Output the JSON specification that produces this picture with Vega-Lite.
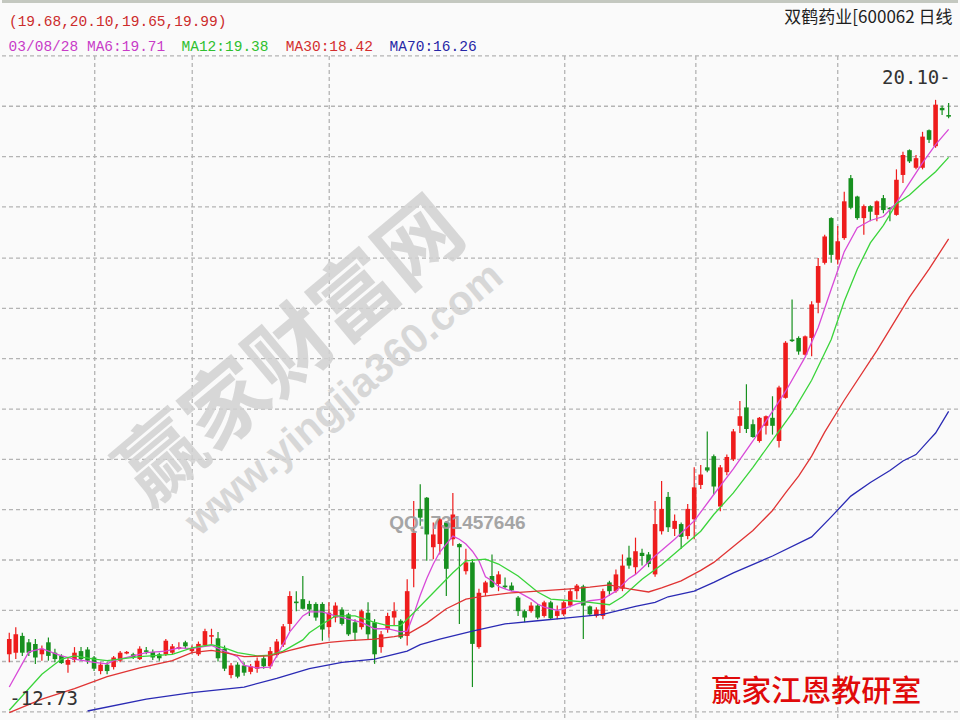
{
  "$schema": "https://vega.github.io/schema/vega-lite/v6.json",
  "width": 960,
  "height": 720,
  "autosize": {"type": "fit", "contains": "padding"},
  "padding": 0,
  "background": "#fafafa",
  "config": {"view": {"stroke": null}},
  "datasets": {
    "k": [
      {"i":0,"o":13.16,"h":13.43,"l":13.06,"c":13.35},
      {"i":1,"o":13.18,"h":13.50,"l":13.10,"c":13.41},
      {"i":2,"o":13.39,"h":13.43,"l":13.14,"c":13.18},
      {"i":3,"o":13.31,"h":13.35,"l":13.14,"c":13.18},
      {"i":4,"o":13.29,"h":13.35,"l":13.04,"c":13.12},
      {"i":5,"o":13.16,"h":13.27,"l":13.08,"c":13.23},
      {"i":6,"o":13.31,"h":13.37,"l":13.08,"c":13.14},
      {"i":7,"o":13.18,"h":13.23,"l":13.06,"c":13.10},
      {"i":8,"o":13.14,"h":13.16,"l":13.04,"c":13.05},
      {"i":9,"o":13.03,"h":13.12,"l":12.93,"c":13.09},
      {"i":10,"o":13.09,"h":13.25,"l":13.06,"c":13.18},
      {"i":11,"o":13.20,"h":13.25,"l":13.08,"c":13.10},
      {"i":12,"o":13.22,"h":13.25,"l":13.04,"c":13.08},
      {"i":13,"o":13.12,"h":13.14,"l":12.95,"c":12.98},
      {"i":14,"o":12.95,"h":13.06,"l":12.91,"c":13.03},
      {"i":15,"o":13.03,"h":13.06,"l":12.91,"c":12.95},
      {"i":16,"o":13.00,"h":13.14,"l":12.97,"c":13.12},
      {"i":17,"o":13.08,"h":13.20,"l":13.06,"c":13.18},
      {"i":18,"o":13.17,"h":13.20,"l":13.16,"c":13.19},
      {"i":19,"o":13.16,"h":13.18,"l":13.10,"c":13.12},
      {"i":20,"o":13.10,"h":13.26,"l":13.09,"c":13.23},
      {"i":21,"o":13.21,"h":13.25,"l":13.16,"c":13.19},
      {"i":22,"o":13.19,"h":13.22,"l":13.09,"c":13.12},
      {"i":23,"o":13.16,"h":13.18,"l":13.08,"c":13.11},
      {"i":24,"o":13.16,"h":13.35,"l":13.14,"c":13.33},
      {"i":25,"o":13.18,"h":13.29,"l":13.16,"c":13.26},
      {"i":26,"o":13.23,"h":13.31,"l":13.22,"c":13.25},
      {"i":27,"o":13.31,"h":13.33,"l":13.23,"c":13.26},
      {"i":28,"o":13.20,"h":13.27,"l":13.17,"c":13.23},
      {"i":29,"o":13.16,"h":13.32,"l":13.14,"c":13.29},
      {"i":30,"o":13.27,"h":13.48,"l":13.25,"c":13.45},
      {"i":31,"o":13.38,"h":13.48,"l":13.29,"c":13.40},
      {"i":32,"o":13.36,"h":13.44,"l":13.07,"c":13.11},
      {"i":33,"o":13.23,"h":13.27,"l":12.95,"c":12.98},
      {"i":34,"o":12.90,"h":13.05,"l":12.86,"c":13.02},
      {"i":35,"o":13.03,"h":13.06,"l":12.86,"c":12.88},
      {"i":36,"o":13.02,"h":13.06,"l":12.89,"c":12.93},
      {"i":37,"o":12.94,"h":13.04,"l":12.91,"c":13.01},
      {"i":38,"o":12.98,"h":13.12,"l":12.93,"c":13.08},
      {"i":39,"o":13.11,"h":13.14,"l":12.98,"c":13.01},
      {"i":40,"o":13.01,"h":13.25,"l":12.98,"c":13.20},
      {"i":41,"o":13.15,"h":13.35,"l":13.12,"c":13.32},
      {"i":42,"o":13.28,"h":13.54,"l":13.25,"c":13.51},
      {"i":43,"o":13.54,"h":13.95,"l":13.45,"c":13.89},
      {"i":44,"o":13.82,"h":13.95,"l":13.70,"c":13.80},
      {"i":45,"o":13.85,"h":14.14,"l":13.72,"c":13.73},
      {"i":46,"o":13.79,"h":13.83,"l":13.64,"c":13.72},
      {"i":47,"o":13.79,"h":13.81,"l":13.58,"c":13.62},
      {"i":48,"o":13.79,"h":13.81,"l":13.33,"c":13.47},
      {"i":49,"o":13.50,"h":13.81,"l":13.37,"c":13.68},
      {"i":50,"o":13.62,"h":13.81,"l":13.56,"c":13.77},
      {"i":51,"o":13.72,"h":13.75,"l":13.52,"c":13.54},
      {"i":52,"o":13.66,"h":13.68,"l":13.39,"c":13.41},
      {"i":53,"o":13.56,"h":13.60,"l":13.33,"c":13.43},
      {"i":54,"o":13.50,"h":13.72,"l":13.47,"c":13.70},
      {"i":55,"o":13.68,"h":13.81,"l":13.35,"c":13.41},
      {"i":56,"o":13.56,"h":13.60,"l":13.04,"c":13.16},
      {"i":57,"o":13.25,"h":13.45,"l":13.18,"c":13.41},
      {"i":58,"o":13.47,"h":13.68,"l":13.43,"c":13.64},
      {"i":59,"o":13.62,"h":13.81,"l":13.52,"c":13.70},
      {"i":60,"o":13.58,"h":13.60,"l":13.35,"c":13.37},
      {"i":61,"o":13.39,"h":14.10,"l":13.27,"c":13.95},
      {"i":62,"o":14.23,"h":15.08,"l":14.00,"c":14.68},
      {"i":63,"o":14.98,"h":15.29,"l":14.77,"c":14.87},
      {"i":64,"o":15.12,"h":15.13,"l":14.33,"c":14.66},
      {"i":65,"o":14.50,"h":14.81,"l":14.35,"c":14.66},
      {"i":66,"o":14.54,"h":14.87,"l":14.41,"c":14.85},
      {"i":67,"o":14.81,"h":14.83,"l":13.89,"c":14.23},
      {"i":68,"o":14.60,"h":15.18,"l":14.52,"c":14.91},
      {"i":69,"o":14.54,"h":14.55,"l":13.54,"c":14.50},
      {"i":70,"o":14.20,"h":14.48,"l":14.16,"c":14.31},
      {"i":71,"o":14.31,"h":14.35,"l":12.75,"c":13.29},
      {"i":72,"o":13.25,"h":13.98,"l":13.23,"c":13.93},
      {"i":73,"o":13.93,"h":14.08,"l":13.89,"c":14.06},
      {"i":74,"o":14.14,"h":14.41,"l":13.99,"c":14.00},
      {"i":75,"o":14.04,"h":14.20,"l":13.95,"c":14.16},
      {"i":76,"o":14.02,"h":14.12,"l":13.98,"c":14.00},
      {"i":77,"o":14.02,"h":14.06,"l":13.95,"c":13.96},
      {"i":78,"o":13.87,"h":13.89,"l":13.64,"c":13.70},
      {"i":79,"o":13.70,"h":13.72,"l":13.56,"c":13.62},
      {"i":80,"o":13.70,"h":13.81,"l":13.68,"c":13.77},
      {"i":81,"o":13.77,"h":13.79,"l":13.60,"c":13.62},
      {"i":82,"o":13.64,"h":13.83,"l":13.62,"c":13.81},
      {"i":83,"o":13.81,"h":13.83,"l":13.59,"c":13.61},
      {"i":84,"o":13.64,"h":13.77,"l":13.60,"c":13.70},
      {"i":85,"o":13.66,"h":13.83,"l":13.64,"c":13.81},
      {"i":86,"o":13.77,"h":13.98,"l":13.75,"c":13.95},
      {"i":87,"o":13.95,"h":14.04,"l":13.85,"c":14.02},
      {"i":88,"o":14.01,"h":14.03,"l":13.35,"c":13.77},
      {"i":89,"o":13.76,"h":13.77,"l":13.64,"c":13.66},
      {"i":90,"o":13.64,"h":13.75,"l":13.62,"c":13.72},
      {"i":91,"o":13.64,"h":13.98,"l":13.60,"c":13.95},
      {"i":92,"o":14.06,"h":14.08,"l":13.89,"c":13.95},
      {"i":93,"o":13.95,"h":14.22,"l":13.93,"c":14.16},
      {"i":94,"o":13.98,"h":14.41,"l":13.95,"c":14.27},
      {"i":95,"o":14.37,"h":14.52,"l":14.23,"c":14.27},
      {"i":96,"o":14.25,"h":14.62,"l":14.16,"c":14.45},
      {"i":97,"o":14.43,"h":14.48,"l":14.27,"c":14.39},
      {"i":98,"o":14.41,"h":14.44,"l":14.25,"c":14.29},
      {"i":99,"o":14.16,"h":15.08,"l":14.13,"c":14.79},
      {"i":100,"o":14.70,"h":15.33,"l":14.66,"c":14.98},
      {"i":101,"o":15.13,"h":15.19,"l":14.69,"c":14.75},
      {"i":102,"o":14.73,"h":14.91,"l":14.64,"c":14.83},
      {"i":103,"o":14.79,"h":14.81,"l":14.48,"c":14.63},
      {"i":104,"o":14.64,"h":15.04,"l":14.60,"c":14.98},
      {"i":105,"o":14.85,"h":15.50,"l":14.60,"c":15.25},
      {"i":106,"o":15.28,"h":15.53,"l":15.23,"c":15.41},
      {"i":107,"o":15.50,"h":15.95,"l":15.44,"c":15.46},
      {"i":108,"o":15.64,"h":15.66,"l":15.16,"c":15.26},
      {"i":109,"o":15.01,"h":15.53,"l":14.95,"c":15.50},
      {"i":110,"o":15.44,"h":15.66,"l":15.40,"c":15.63},
      {"i":111,"o":15.60,"h":15.98,"l":15.58,"c":15.95},
      {"i":112,"o":16.02,"h":16.33,"l":15.93,"c":16.14},
      {"i":113,"o":16.25,"h":16.54,"l":15.93,"c":15.98},
      {"i":114,"o":16.04,"h":16.10,"l":15.87,"c":15.88},
      {"i":115,"o":15.83,"h":16.13,"l":15.81,"c":16.12},
      {"i":116,"o":16.02,"h":16.15,"l":15.91,"c":16.14},
      {"i":117,"o":16.12,"h":16.39,"l":15.91,"c":16.02},
      {"i":118,"o":15.83,"h":16.52,"l":15.75,"c":16.50},
      {"i":119,"o":16.37,"h":17.08,"l":16.36,"c":17.06},
      {"i":120,"o":17.10,"h":17.60,"l":17.07,"c":17.08},
      {"i":121,"o":17.12,"h":17.14,"l":16.91,"c":16.95},
      {"i":122,"o":16.91,"h":17.15,"l":16.90,"c":17.14},
      {"i":123,"o":17.12,"h":17.58,"l":16.89,"c":17.54},
      {"i":124,"o":17.56,"h":18.12,"l":17.43,"c":18.02},
      {"i":125,"o":18.06,"h":18.41,"l":18.04,"c":18.39},
      {"i":126,"o":18.62,"h":18.63,"l":18.06,"c":18.16},
      {"i":127,"o":18.10,"h":18.52,"l":18.04,"c":18.33},
      {"i":128,"o":18.37,"h":18.95,"l":18.35,"c":18.83},
      {"i":129,"o":19.12,"h":19.16,"l":18.73,"c":18.75},
      {"i":130,"o":18.89,"h":18.90,"l":18.60,"c":18.62},
      {"i":131,"o":18.62,"h":18.79,"l":18.41,"c":18.77},
      {"i":132,"o":18.77,"h":18.78,"l":18.58,"c":18.70},
      {"i":133,"o":18.66,"h":18.84,"l":18.58,"c":18.83},
      {"i":134,"o":18.87,"h":18.91,"l":18.68,"c":18.72},
      {"i":135,"o":18.75,"h":18.76,"l":18.58,"c":18.73},
      {"i":136,"o":18.66,"h":19.23,"l":18.65,"c":19.10},
      {"i":137,"o":19.16,"h":19.45,"l":19.06,"c":19.41},
      {"i":138,"o":19.47,"h":19.48,"l":19.31,"c":19.33},
      {"i":139,"o":19.25,"h":19.41,"l":19.23,"c":19.37},
      {"i":140,"o":19.25,"h":19.70,"l":19.23,"c":19.64},
      {"i":141,"o":19.72,"h":19.73,"l":19.56,"c":19.60},
      {"i":142,"o":19.52,"h":20.10,"l":19.50,"c":20.04},
      {"i":143,"o":20.00,"h":20.03,"l":19.91,"c":19.97},
      {"i":144,"o":19.91,"h":20.06,"l":19.87,"c":19.89}
    ],
    "ma": [
      {"s":"MA6","i":0,"v":12.75},{"s":"MA6","i":3,"v":13.19},{"s":"MA6","i":5,"v":13.23},{"s":"MA6","i":8,"v":13.14},
      {"s":"MA6","i":10,"v":13.10},{"s":"MA6","i":13,"v":13.06},{"s":"MA6","i":15,"v":13.04},{"s":"MA6","i":16,"v":13.08},
      {"s":"MA6","i":19,"v":13.14},{"s":"MA6","i":21,"v":13.18},{"s":"MA6","i":24,"v":13.20},{"s":"MA6","i":26,"v":13.24},
      {"s":"MA6","i":28,"v":13.23},{"s":"MA6","i":30,"v":13.26},{"s":"MA6","i":31,"v":13.27},{"s":"MA6","i":33,"v":13.20},
      {"s":"MA6","i":35,"v":13.13},{"s":"MA6","i":36,"v":13.02},{"s":"MA6","i":38,"v":12.99},{"s":"MA6","i":40,"v":13.00},
      {"s":"MA6","i":41,"v":13.14},{"s":"MA6","i":43,"v":13.44},{"s":"MA6","i":45,"v":13.64},{"s":"MA6","i":46,"v":13.69},
      {"s":"MA6","i":48,"v":13.69},{"s":"MA6","i":50,"v":13.64},{"s":"MA6","i":52,"v":13.60},{"s":"MA6","i":54,"v":13.56},
      {"s":"MA6","i":56,"v":13.48},{"s":"MA6","i":58,"v":13.48},{"s":"MA6","i":60,"v":13.44},{"s":"MA6","i":61,"v":13.45},
      {"s":"MA6","i":62,"v":13.66},{"s":"MA6","i":63,"v":13.90},{"s":"MA6","i":64,"v":14.11},{"s":"MA6","i":65,"v":14.29},
      {"s":"MA6","i":66,"v":14.44},{"s":"MA6","i":67,"v":14.54},{"s":"MA6","i":68,"v":14.64},{"s":"MA6","i":69,"v":14.60},
      {"s":"MA6","i":70,"v":14.54},{"s":"MA6","i":71,"v":14.45},{"s":"MA6","i":72,"v":14.33},{"s":"MA6","i":73,"v":14.13},
      {"s":"MA6","i":74,"v":14.08},{"s":"MA6","i":75,"v":14.01},{"s":"MA6","i":76,"v":13.98},{"s":"MA6","i":77,"v":13.95},
      {"s":"MA6","i":78,"v":13.94},{"s":"MA6","i":80,"v":13.85},{"s":"MA6","i":81,"v":13.79},{"s":"MA6","i":82,"v":13.75},
      {"s":"MA6","i":83,"v":13.73},{"s":"MA6","i":84,"v":13.71},{"s":"MA6","i":85,"v":13.73},{"s":"MA6","i":87,"v":13.79},
      {"s":"MA6","i":88,"v":13.81},{"s":"MA6","i":89,"v":13.83},{"s":"MA6","i":91,"v":13.85},{"s":"MA6","i":93,"v":13.95},
      {"s":"MA6","i":95,"v":14.11},{"s":"MA6","i":96,"v":14.16},{"s":"MA6","i":99,"v":14.39},{"s":"MA6","i":102,"v":14.60},
      {"s":"MA6","i":105,"v":14.83},{"s":"MA6","i":108,"v":15.16},{"s":"MA6","i":111,"v":15.48},{"s":"MA6","i":114,"v":15.83},
      {"s":"MA6","i":117,"v":16.20},{"s":"MA6","i":119,"v":16.45},{"s":"MA6","i":122,"v":16.88},{"s":"MA6","i":124,"v":17.25},
      {"s":"MA6","i":126,"v":17.73},{"s":"MA6","i":128,"v":18.20},{"s":"MA6","i":130,"v":18.50},{"s":"MA6","i":132,"v":18.59},
      {"s":"MA6","i":134,"v":18.64},{"s":"MA6","i":136,"v":18.81},{"s":"MA6","i":138,"v":19.06},{"s":"MA6","i":140,"v":19.31},
      {"s":"MA6","i":142,"v":19.54},{"s":"MA6","i":144,"v":19.73},

      {"s":"MA12","i":0,"v":12.46},{"s":"MA12","i":5,"v":12.91},{"s":"MA12","i":8,"v":13.10},{"s":"MA12","i":10,"v":13.14},
      {"s":"MA12","i":13,"v":13.10},{"s":"MA12","i":15,"v":13.08},{"s":"MA12","i":20,"v":13.13},{"s":"MA12","i":25,"v":13.16},
      {"s":"MA12","i":28,"v":13.24},{"s":"MA12","i":31,"v":13.28},{"s":"MA12","i":33,"v":13.24},{"s":"MA12","i":35,"v":13.18},
      {"s":"MA12","i":38,"v":13.14},{"s":"MA12","i":40,"v":13.15},{"s":"MA12","i":42,"v":13.20},{"s":"MA12","i":45,"v":13.34},
      {"s":"MA12","i":46,"v":13.43},{"s":"MA12","i":48,"v":13.54},{"s":"MA12","i":50,"v":13.64},{"s":"MA12","i":53,"v":13.64},
      {"s":"MA12","i":56,"v":13.56},{"s":"MA12","i":58,"v":13.52},{"s":"MA12","i":60,"v":13.52},{"s":"MA12","i":62,"v":13.68},
      {"s":"MA12","i":65,"v":13.93},{"s":"MA12","i":68,"v":14.18},{"s":"MA12","i":70,"v":14.33},{"s":"MA12","i":73,"v":14.35},
      {"s":"MA12","i":75,"v":14.29},{"s":"MA12","i":78,"v":14.14},{"s":"MA12","i":81,"v":13.94},{"s":"MA12","i":83,"v":13.85},
      {"s":"MA12","i":86,"v":13.83},{"s":"MA12","i":89,"v":13.81},{"s":"MA12","i":92,"v":13.78},{"s":"MA12","i":94,"v":13.88},
      {"s":"MA12","i":97,"v":14.10},{"s":"MA12","i":100,"v":14.28},{"s":"MA12","i":103,"v":14.49},{"s":"MA12","i":106,"v":14.70},
      {"s":"MA12","i":108,"v":14.91},{"s":"MA12","i":111,"v":15.18},{"s":"MA12","i":114,"v":15.50},{"s":"MA12","i":117,"v":15.84},
      {"s":"MA12","i":120,"v":16.18},{"s":"MA12","i":123,"v":16.59},{"s":"MA12","i":126,"v":17.10},{"s":"MA12","i":128,"v":17.58},
      {"s":"MA12","i":130,"v":17.98},{"s":"MA12","i":132,"v":18.31},{"s":"MA12","i":134,"v":18.53},{"s":"MA12","i":136,"v":18.80},
      {"s":"MA12","i":138,"v":18.91},{"s":"MA12","i":140,"v":19.06},{"s":"MA12","i":142,"v":19.20},{"s":"MA12","i":144,"v":19.38},

      {"s":"MA30","i":0,"v":12.43},{"s":"MA30","i":5,"v":12.60},{"s":"MA30","i":10,"v":12.73},{"s":"MA30","i":15,"v":12.88},
      {"s":"MA30","i":20,"v":12.99},{"s":"MA30","i":25,"v":13.08},{"s":"MA30","i":28,"v":13.18},{"s":"MA30","i":31,"v":13.21},
      {"s":"MA30","i":33,"v":13.18},{"s":"MA30","i":36,"v":13.13},{"s":"MA30","i":40,"v":13.14},{"s":"MA30","i":43,"v":13.21},
      {"s":"MA30","i":46,"v":13.27},{"s":"MA30","i":49,"v":13.31},{"s":"MA30","i":52,"v":13.33},{"s":"MA30","i":56,"v":13.35},
      {"s":"MA30","i":59,"v":13.38},{"s":"MA30","i":61,"v":13.41},{"s":"MA30","i":64,"v":13.55},{"s":"MA30","i":67,"v":13.73},
      {"s":"MA30","i":70,"v":13.85},{"s":"MA30","i":72,"v":13.88},{"s":"MA30","i":77,"v":13.93},{"s":"MA30","i":81,"v":13.95},
      {"s":"MA30","i":86,"v":13.98},{"s":"MA30","i":89,"v":14.00},{"s":"MA30","i":92,"v":14.03},{"s":"MA30","i":95,"v":13.98},
      {"s":"MA30","i":98,"v":13.94},{"s":"MA30","i":100,"v":13.99},{"s":"MA30","i":103,"v":14.08},{"s":"MA30","i":106,"v":14.21},
      {"s":"MA30","i":108,"v":14.31},{"s":"MA30","i":111,"v":14.51},{"s":"MA30","i":114,"v":14.71},{"s":"MA30","i":117,"v":14.96},
      {"s":"MA30","i":119,"v":15.18},{"s":"MA30","i":121,"v":15.39},{"s":"MA30","i":123,"v":15.64},{"s":"MA30","i":125,"v":15.94},
      {"s":"MA30","i":128,"v":16.34},{"s":"MA30","i":133,"v":16.96},{"s":"MA30","i":138,"v":17.63},{"s":"MA30","i":141,"v":17.98},
      {"s":"MA30","i":144,"v":18.36},

      {"s":"MA70","i":12,"v":12.45},{"s":"MA70","i":21,"v":12.60},{"s":"MA70","i":28,"v":12.68},{"s":"MA70","i":36,"v":12.75},
      {"s":"MA70","i":41,"v":12.86},{"s":"MA70","i":46,"v":12.98},{"s":"MA70","i":51,"v":13.06},{"s":"MA70","i":56,"v":13.10},
      {"s":"MA70","i":61,"v":13.20},{"s":"MA70","i":63,"v":13.28},{"s":"MA70","i":66,"v":13.35},{"s":"MA70","i":71,"v":13.45},
      {"s":"MA70","i":76,"v":13.54},{"s":"MA70","i":81,"v":13.58},{"s":"MA70","i":86,"v":13.62},{"s":"MA70","i":91,"v":13.66},
      {"s":"MA70","i":96,"v":13.76},{"s":"MA70","i":99,"v":13.81},{"s":"MA70","i":101,"v":13.88},{"s":"MA70","i":105,"v":13.95},
      {"s":"MA70","i":108,"v":14.06},{"s":"MA70","i":111,"v":14.18},{"s":"MA70","i":117,"v":14.39},{"s":"MA70","i":123,"v":14.63},
      {"s":"MA70","i":126,"v":14.88},{"s":"MA70","i":129,"v":15.14},{"s":"MA70","i":132,"v":15.31},{"s":"MA70","i":135,"v":15.46},
      {"s":"MA70","i":137,"v":15.58},{"s":"MA70","i":139,"v":15.66},{"s":"MA70","i":141,"v":15.84},{"s":"MA70","i":142,"v":15.93},
      {"s":"MA70","i":144,"v":16.20}
    ],
    "gh": [
      {"p":20.65},{"p":20.02},{"p":19.39},{"p":18.76},{"p":18.12},{"p":17.49},{"p":16.86},
      {"p":16.23},{"p":15.60},{"p":14.97},{"p":14.34},{"p":13.71},{"p":13.07},{"p":12.44}
    ],
    "gv": [
      {"i":13.1},{"i":28.05},{"i":49.05},{"i":85.15},{"i":105.25},{"i":127}
    ]
  },
  "layer": [
    {
      "data": {"values": [{"p": 21.33}]},
      "mark": {"type": "rule", "color": "#c4c8c0", "strokeWidth": 3},
      "encoding": {
        "y": {"field": "p", "type": "quantitative", "scale": {"domain": [12.35, 21.35], "nice": false, "zero": false}, "axis": null}
      }
    },
    {
      "data": {"name": "gh"},
      "mark": {"type": "rule", "color": "#b4b4b4", "strokeWidth": 1.3, "strokeDash": [4, 3]},
      "encoding": {
        "y": {"field": "p", "type": "quantitative", "scale": {"domain": [12.35, 21.35], "nice": false, "zero": false}, "axis": null}
      }
    },
    {
      "data": {"name": "gv"},
      "mark": {"type": "rule", "color": "#b4b4b4", "strokeWidth": 1.3, "strokeDash": [4, 3]},
      "encoding": {
        "x": {"field": "i", "type": "quantitative", "scale": {"domain": [-0.347, 144.67], "nice": false, "zero": false}, "axis": null},
        "y": {"datum": 20.65, "type": "quantitative", "scale": {"domain": [12.35, 21.35], "nice": false, "zero": false}, "axis": null},
        "y2": {"datum": 12.35}
      }
    },
    {
      "data": {"values": [{"t": "赢家财富网"}]},
      "mark": {"type": "text", "font": "Noto Sans CJK SC", "fontSize": 84, "fontWeight": "bold", "angle": 320, "align": "center", "baseline": "middle", "color": "#d2d2d2", "opacity": 0.85},
      "encoding": {
        "x": {"datum": 43.5, "type": "quantitative", "scale": {"domain": [-0.347, 144.67], "nice": false, "zero": false}, "axis": null},
        "y": {"datum": 16.92, "type": "quantitative", "scale": {"domain": [12.35, 21.35], "nice": false, "zero": false}, "axis": null},
        "text": {"field": "t"}
      }
    },
    {
      "data": {"values": [{"t": "www.yingjia360.com"}]},
      "mark": {"type": "text", "font": "Liberation Sans", "fontSize": 41, "fontWeight": "bold", "angle": 320, "align": "center", "baseline": "middle", "color": "#d2d2d2", "opacity": 0.85},
      "encoding": {
        "x": {"datum": 51.4, "type": "quantitative", "scale": {"domain": [-0.347, 144.67], "nice": false, "zero": false}, "axis": null},
        "y": {"datum": 16.35, "type": "quantitative", "scale": {"domain": [12.35, 21.35], "nice": false, "zero": false}, "axis": null},
        "text": {"field": "t"}
      }
    },
    {
      "data": {"name": "k"},
      "mark": {"type": "rule", "strokeWidth": 1.2},
      "encoding": {
        "x": {"field": "i", "type": "quantitative", "scale": {"domain": [-0.347, 144.67], "nice": false, "zero": false}, "axis": null},
        "y": {"field": "l", "type": "quantitative", "scale": {"domain": [12.35, 21.35], "nice": false, "zero": false}, "axis": null},
        "y2": {"field": "h"},
        "color": {"condition": {"test": "datum.c >= datum.o", "value": "#ee1c1c"}, "value": "#17901f"}
      }
    },
    {
      "data": {"name": "k"},
      "mark": {"type": "bar", "size": 4.6},
      "encoding": {
        "x": {"field": "i", "type": "quantitative", "scale": {"domain": [-0.347, 144.67], "nice": false, "zero": false}, "axis": null},
        "y": {"field": "o", "type": "quantitative", "scale": {"domain": [12.35, 21.35], "nice": false, "zero": false}, "axis": null},
        "y2": {"field": "c"},
        "color": {"condition": {"test": "datum.c >= datum.o", "value": "#ee1c1c"}, "value": "#17901f"}
      }
    },
    {
      "data": {"name": "ma"},
      "mark": {"type": "line"},
      "encoding": {
        "x": {"field": "i", "type": "quantitative", "scale": {"domain": [-0.347, 144.67], "nice": false, "zero": false}, "axis": null},
        "y": {"field": "v", "type": "quantitative", "scale": {"domain": [12.35, 21.35], "nice": false, "zero": false}, "axis": null},
        "color": {"field": "s", "type": "nominal", "scale": {"domain": ["MA6", "MA12", "MA30", "MA70"], "range": ["#d84ad8", "#3ad43a", "#e03434", "#2a2ab4"]}, "legend": null},
        "strokeWidth": {"field": "s", "type": "nominal", "scale": {"domain": ["MA6", "MA12", "MA30", "MA70"], "range": [1.3, 1.3, 1.5, 2.2]}, "legend": null}
      }
    },
    {
      "data": {"values": [{"t": "QQ: 731457646"}]},
      "mark": {"type": "text", "font": "Liberation Sans", "fontSize": 19, "fontWeight": "bold", "align": "center", "baseline": "middle", "color": "#9c9c9c", "opacity": 0.9},
      "encoding": {
        "x": {"datum": 68.7, "type": "quantitative", "scale": {"domain": [-0.347, 144.67], "nice": false, "zero": false}, "axis": null},
        "y": {"datum": 14.80, "type": "quantitative", "scale": {"domain": [12.35, 21.35], "nice": false, "zero": false}, "axis": null},
        "text": {"field": "t"}
      }
    },
    {
      "data": {"values": [{"t": "(19.68,20.10,19.65,19.99)"}]},
      "mark": {"type": "text", "font": "Liberation Mono", "fontSize": 14.5, "align": "left", "baseline": "middle", "color": "#cc2c2c"},
      "encoding": {
        "x": {"datum": -0.05, "type": "quantitative", "scale": {"domain": [-0.347, 144.67], "nice": false, "zero": false}, "axis": null},
        "y": {"datum": 21.08, "type": "quantitative", "scale": {"domain": [12.35, 21.35], "nice": false, "zero": false}, "axis": null},
        "text": {"field": "t"}
      }
    },
    {
      "data": {"values": [{"t": "双鹤药业[600062 日线"}]},
      "mark": {"type": "text", "font": "Noto Sans CJK SC", "fontSize": 17, "align": "right", "baseline": "middle", "color": "#1e1e1e"},
      "encoding": {
        "x": {"datum": 144.6, "type": "quantitative", "scale": {"domain": [-0.347, 144.67], "nice": false, "zero": false}, "axis": null},
        "y": {"datum": 21.13, "type": "quantitative", "scale": {"domain": [12.35, 21.35], "nice": false, "zero": false}, "axis": null},
        "text": {"field": "t"}
      }
    },
    {
      "data": {"values": [{"t": "03/08/28 MA6:19.71"}]},
      "mark": {"type": "text", "font": "Liberation Mono", "fontSize": 14.5, "align": "left", "baseline": "middle", "color": "#c83cc8"},
      "encoding": {
        "x": {"datum": -0.1, "type": "quantitative", "scale": {"domain": [-0.347, 144.67], "nice": false, "zero": false}, "axis": null},
        "y": {"datum": 20.76, "type": "quantitative", "scale": {"domain": [12.35, 21.35], "nice": false, "zero": false}, "axis": null},
        "text": {"field": "t"}
      }
    },
    {
      "data": {"values": [{"t": "MA12:19.38"}]},
      "mark": {"type": "text", "font": "Liberation Mono", "fontSize": 14.5, "align": "left", "baseline": "middle", "color": "#2fc02f"},
      "encoding": {
        "x": {"datum": 26.4, "type": "quantitative", "scale": {"domain": [-0.347, 144.67], "nice": false, "zero": false}, "axis": null},
        "y": {"datum": 20.76, "type": "quantitative", "scale": {"domain": [12.35, 21.35], "nice": false, "zero": false}, "axis": null},
        "text": {"field": "t"}
      }
    },
    {
      "data": {"values": [{"t": "MA30:18.42"}]},
      "mark": {"type": "text", "font": "Liberation Mono", "fontSize": 14.5, "align": "left", "baseline": "middle", "color": "#d42e2e"},
      "encoding": {
        "x": {"datum": 42.4, "type": "quantitative", "scale": {"domain": [-0.347, 144.67], "nice": false, "zero": false}, "axis": null},
        "y": {"datum": 20.76, "type": "quantitative", "scale": {"domain": [12.35, 21.35], "nice": false, "zero": false}, "axis": null},
        "text": {"field": "t"}
      }
    },
    {
      "data": {"values": [{"t": "MA70:16.26"}]},
      "mark": {"type": "text", "font": "Liberation Mono", "fontSize": 14.5, "align": "left", "baseline": "middle", "color": "#2626a6"},
      "encoding": {
        "x": {"datum": 58.3, "type": "quantitative", "scale": {"domain": [-0.347, 144.67], "nice": false, "zero": false}, "axis": null},
        "y": {"datum": 20.76, "type": "quantitative", "scale": {"domain": [12.35, 21.35], "nice": false, "zero": false}, "axis": null},
        "text": {"field": "t"}
      }
    },
    {
      "data": {"values": [{"t": "20.10-"}]},
      "mark": {"type": "text", "font": "DejaVu Sans Mono", "fontSize": 19, "align": "left", "baseline": "middle", "color": "#333333"},
      "encoding": {
        "x": {"datum": 133.8, "type": "quantitative", "scale": {"domain": [-0.347, 144.67], "nice": false, "zero": false}, "axis": null},
        "y": {"datum": 20.375, "type": "quantitative", "scale": {"domain": [12.35, 21.35], "nice": false, "zero": false}, "axis": null},
        "text": {"field": "t"}
      }
    },
    {
      "data": {"values": [{"t": "-12.73"}]},
      "mark": {"type": "text", "font": "DejaVu Sans Mono", "fontSize": 19, "align": "left", "baseline": "middle", "color": "#333333"},
      "encoding": {
        "x": {"datum": 0.0, "type": "quantitative", "scale": {"domain": [-0.347, 144.67], "nice": false, "zero": false}, "axis": null},
        "y": {"datum": 12.60, "type": "quantitative", "scale": {"domain": [12.35, 21.35], "nice": false, "zero": false}, "axis": null},
        "text": {"field": "t"}
      }
    },
    {
      "data": {"values": [{"t": "赢家江恩教研室"}]},
      "mark": {"type": "text", "font": "Noto Sans CJK SC", "fontSize": 30, "fontWeight": 500, "align": "center", "baseline": "middle", "color": "#e00a0a"},
      "encoding": {
        "x": {"datum": 123.7, "type": "quantitative", "scale": {"domain": [-0.347, 144.67], "nice": false, "zero": false}, "axis": null},
        "y": {"datum": 12.69, "type": "quantitative", "scale": {"domain": [12.35, 21.35], "nice": false, "zero": false}, "axis": null},
        "text": {"field": "t"}
      }
    }
  ]
}
